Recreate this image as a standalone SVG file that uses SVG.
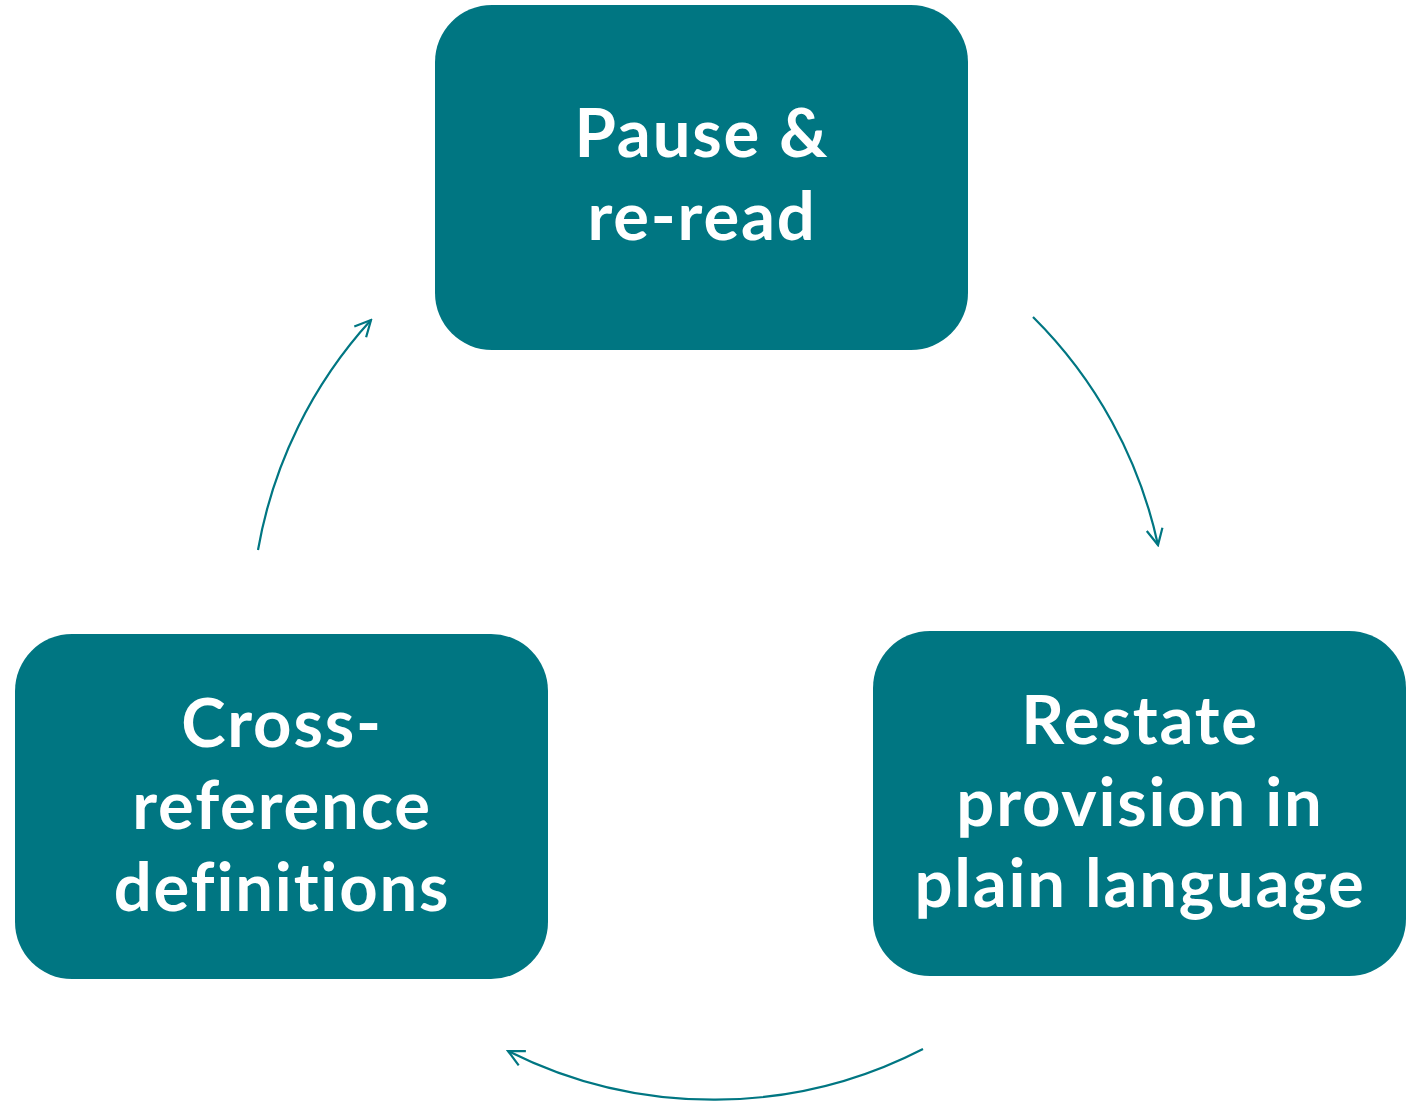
<svg xmlns="http://www.w3.org/2000/svg" width="1417" height="1101" viewBox="0 0 1417 1101">
<style>
.box{fill:#007682}
.lbl{font-family:"Lato","Open Sans","Liberation Sans",sans-serif;font-weight:700;font-size:67px;letter-spacing:1.8px;font-variant-ligatures:none;fill:#ffffff;text-anchor:middle}
.arc{fill:none;stroke:#007682;stroke-width:2.2}
</style>
<defs>
<marker id="ah" viewBox="0 0 20 20" refX="18" refY="10" markerWidth="20" markerHeight="20" markerUnits="userSpaceOnUse" orient="auto">
<path d="M2 2 L18 10 L2 18" fill="none" stroke="#007682" stroke-width="2.2"/>
</marker>
</defs>
<rect width="1417" height="1101" fill="#ffffff"/>
<g id="connectors">
<path class="arc" d="M1033 317 A458 458 0 0 1 1158 545" marker-end="url(#ah)"/>
<path class="arc" d="M923 1049 A458 458 0 0 1 508 1051" marker-end="url(#ah)"/>
<path class="arc" d="M258 550 A458 458 0 0 1 371 320" marker-end="url(#ah)"/>
</g>
<g id="node-pause">
<rect class="box" x="435" y="5" width="533" height="345" rx="57"/>
<text class="lbl" x="702" y="157">Pause &amp;</text>
<text class="lbl" x="702" y="240">re-read</text>
</g>
<g id="node-restate">
<rect class="box" x="873" y="631" width="533" height="345" rx="57"/>
<text class="lbl" x="1140" y="744">Restate</text>
<text class="lbl" x="1140" y="826">provision in</text>
<text class="lbl" x="1140" y="907">plain language</text>
</g>
<g id="node-cross">
<rect class="box" x="15" y="634" width="533" height="345" rx="57"/>
<text class="lbl" x="282" y="747">Cross-</text>
<text class="lbl" x="282" y="829">reference</text>
<text class="lbl" x="282" y="911">definitions</text>
</g>
</svg>
